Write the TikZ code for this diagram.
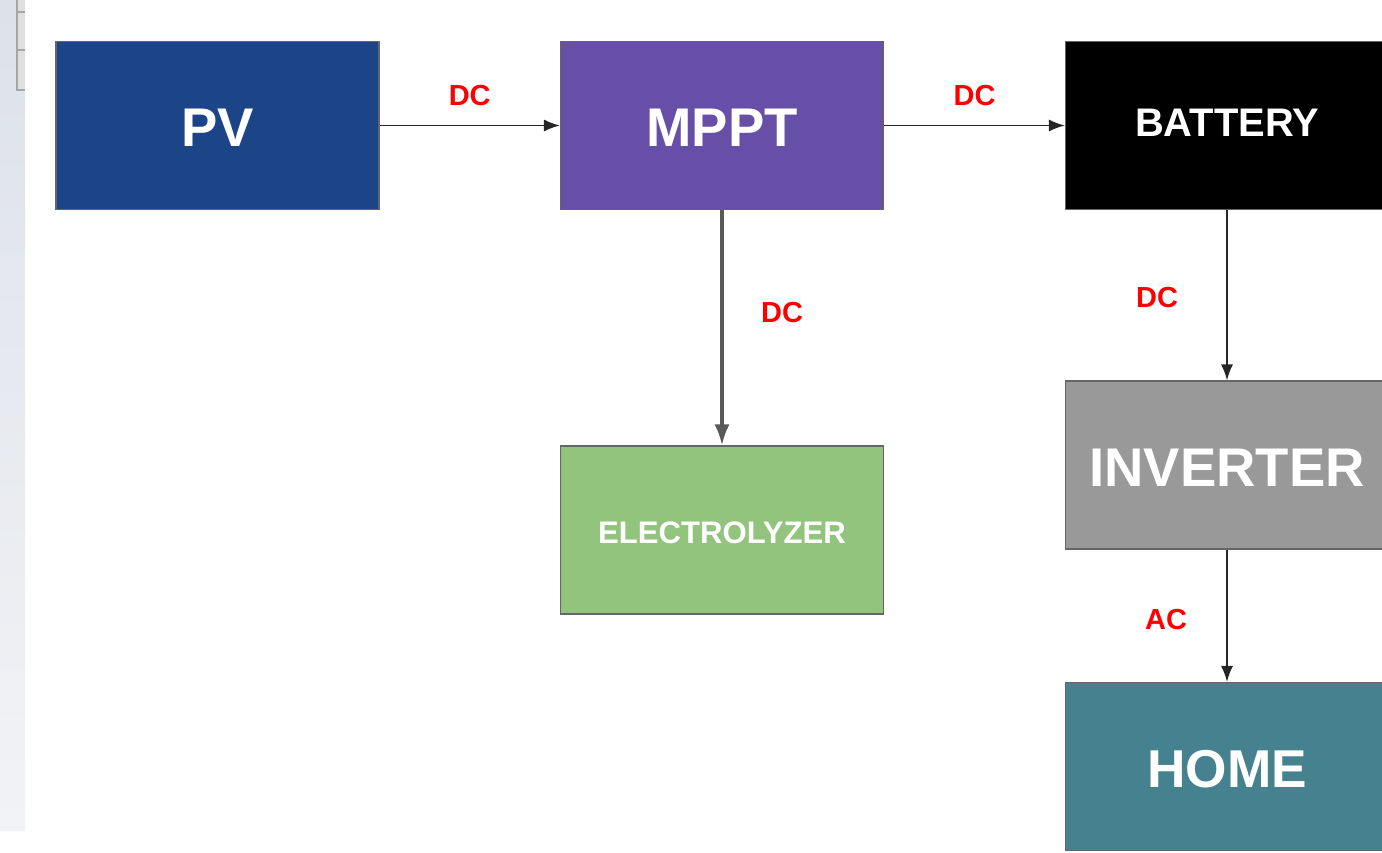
\documentclass[tikz,border=0pt]{standalone}
\usepackage{fontspec}
\setmainfont{Liberation Sans}
\usetikzlibrary{arrows.meta}
\definecolor{pvblue}{HTML}{1C4587}
\definecolor{mpptviolet}{HTML}{674EA7}
\definecolor{invgrey}{HTML}{999999}
\definecolor{elecgreen}{HTML}{93C47D}
\definecolor{hometeal}{HTML}{45818E}
\definecolor{edgegrey}{HTML}{666666}
\definecolor{stripgrey}{HTML}{595959}
\newcommand{\nudge}[2]{\raisebox{#1}[\height][\depth]{#2}}

\begin{document}
\begin{tikzpicture}[every node/.style={font=\bfseries},
  blk/.style={draw=edgegrey, line width=0.6pt, minimum width=6.46cm, minimum height=3.36cm, inner sep=0pt, text=white},
  lbl/.style={text=red, font=\fontsize{16.5}{18}\selectfont\bfseries},
  link/.style={-{Latex[length=3.2mm, width=2.4mm]}, line width=0.95pt, black!85}]
	\useasboundingbox (0,0) rectangle (27.64,-17.06);
	\shade[top color={rgb,255:red,221;green,225;blue,234}, bottom color={rgb,255:red,242;green,243;blue,246}] (0,0) rectangle (0.5,-16.6);
	\fill[gray!25] (0.34,0) rectangle (0.5,-1.8);
	\draw[gray!70, line width=0.6pt] (0.34,0) -- (0.34,-1.8) -- (0.5,-1.8);
	\draw[gray!70, line width=0.6pt] (0.34,-0.24) -- (0.5,-0.24) (0.34,-1.0) -- (0.5,-1.0);
	\node[blk, fill=pvblue, font=\fontsize{31}{34}\selectfont\bfseries] (pv) at (4.35,-2.51) {\nudge{-1.5pt}{PV}};
	\node[blk, fill=mpptviolet, font=\fontsize{31}{34}\selectfont\bfseries] (mppt) at (14.44,-2.51) {\nudge{-1.5pt}{MPPT}};
	\node[blk, fill=black, font=\fontsize{22.7}{26}\selectfont\bfseries] (bat) at (24.54,-2.51) {\nudge{1.5pt}{BATTERY}};
	\node[blk, fill=elecgreen, font=\fontsize{17.7}{20}\selectfont\bfseries] (elec) at (14.44,-10.6) {\nudge{-1.5pt}{ELECTROLYZER}};
	\node[blk, fill=invgrey, font=\fontsize{31}{34}\selectfont\bfseries] (inv) at (24.54,-9.3) {\nudge{-1.5pt}{INVERTER}};
	\node[blk, fill=hometeal, font=\fontsize{30.3}{34}\selectfont\bfseries] (home) at (24.54,-15.33) {\nudge{-1.5pt}{HOME}};
	\draw[link] (pv) -- (mppt) node[lbl, midway, yshift=0.6cm] (dc1) {DC};
	\draw[link] (mppt) -- (bat) node[lbl, midway, yshift=0.6cm] (dc2) {DC};
	\draw[-{Latex[length=4.2mm, width=3mm]}, line width=1.9pt, stripgrey] (mppt) -- (elec) node[lbl, midway, xshift=1.2cm, yshift=0.3cm] (dc3) {DC};
	\draw[link] (bat) -- (inv) node[lbl, midway, xshift=-1.4cm, yshift=-0.05cm] (dc4) {DC};
	\draw[link] (inv) -- (home) node[lbl, midway, xshift=-1.22cm, yshift=-0.07cm] (ac) {AC};
\end{tikzpicture}
\end{document}
